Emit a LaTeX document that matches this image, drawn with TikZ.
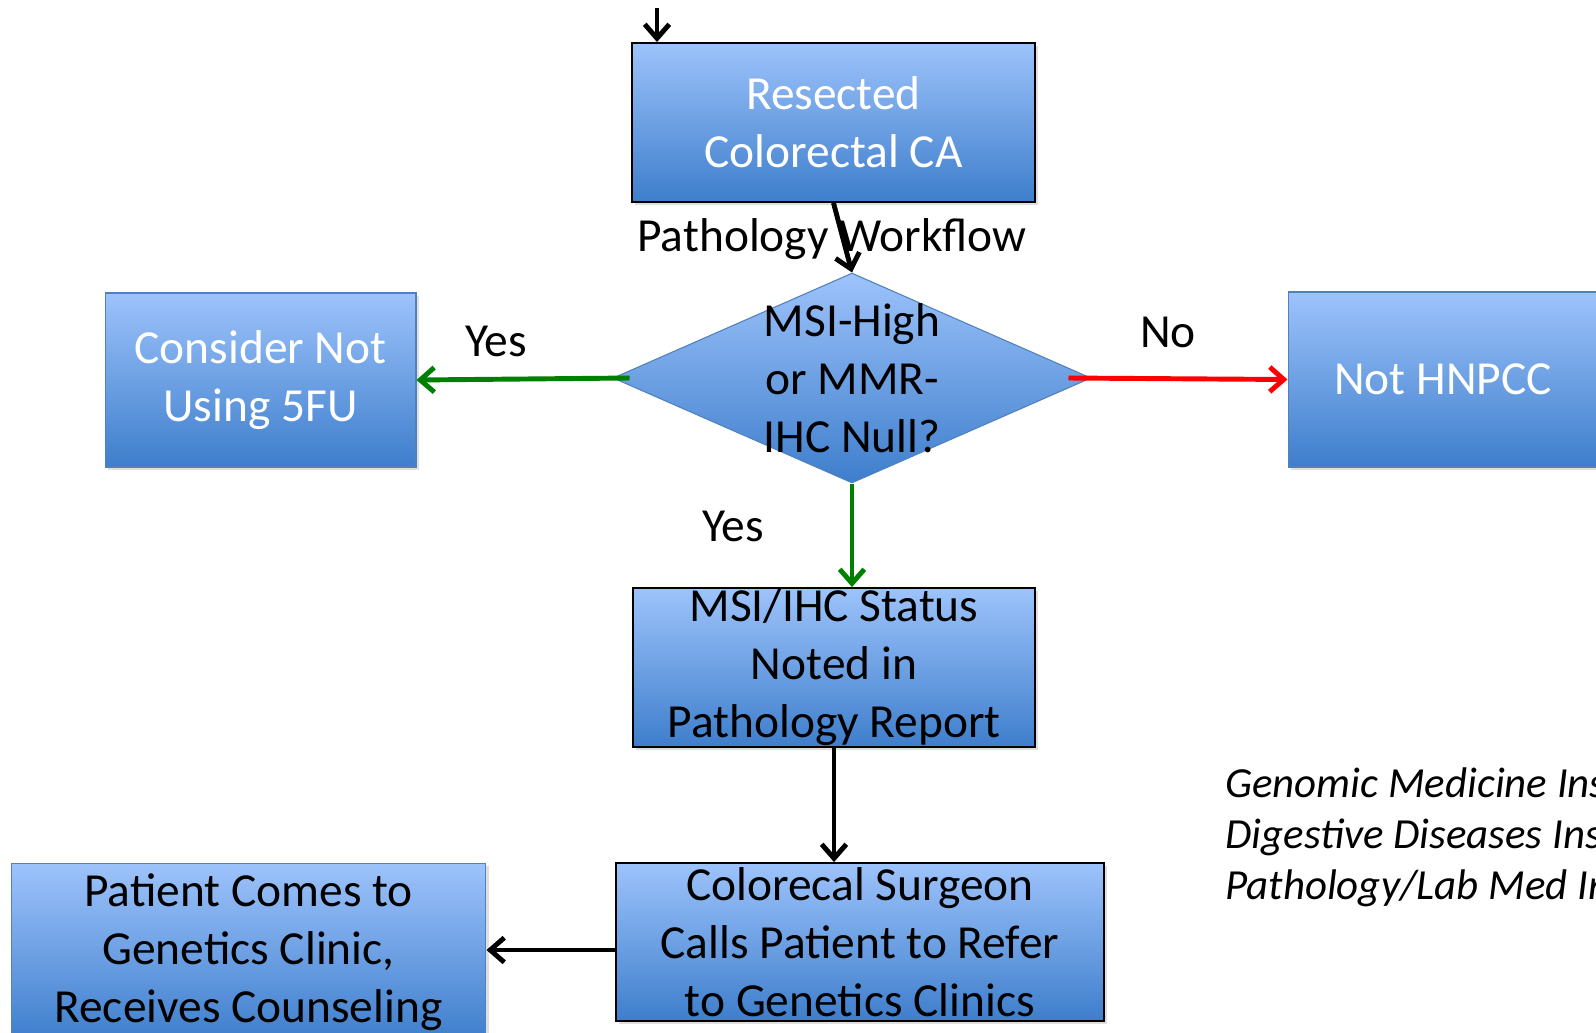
\documentclass[tikz,border=0pt]{standalone}
\usepackage{fontspec}
\setmainfont{Carlito}
\usetikzlibrary{shapes.geometric,arrows.meta,shadows}
\definecolor{boxtop}{RGB}{157,195,251}
\definecolor{boxbot}{RGB}{62,126,204}
\definecolor{boxedge}{RGB}{79,129,189}
\definecolor{yesgreen}{RGB}{0,128,0}
\tikzset{
  /tikz/.cd,
  stepbox/.style={rectangle,top color=boxtop,bottom color=boxbot,inner sep=0pt,align=center,
    font=\fontsize{27}{33}\selectfont,drop shadow={opacity=.25,shadow xshift=.6mm,shadow yshift=-.6mm}},
  darkbox/.style={stepbox,draw=black,line width=1.1pt},
  palebox/.style={stepbox,draw=boxedge,line width=.6pt,text=white},
  lbl/.style={font=\fontsize{27}{33}\selectfont,inner sep=0pt},
  note/.style={font=\itshape\fontsize{24.4}{29}\selectfont,inner sep=0pt,anchor=base west}
}

\begin{document}
\begin{tikzpicture}[x=0.02cm,y=-0.02cm,
                    flow/.style={-{Straight Barb[length=8pt,width=14pt]},line width=2.8pt}]
  \useasboundingbox (0,0) rectangle (1596,1032);

  \node[darkbox,text=white,minimum width=8.06cm,minimum height=3.18cm] (resected) at (833.5,122.5) {Resected\\Colorectal CA};
  \node[palebox,minimum width=6.22cm,minimum height=3.48cm] (consider) at (260.5,380) {Consider Not\\Using 5FU};
  \node[palebox,minimum width=6.2cm,minimum height=3.5cm] (nothnpcc) at (1443,379.5) {Not HNPCC};
  \node[diamond,top color=boxtop,bottom color=boxbot,draw=boxedge,line width=.6pt,inner sep=0pt,
        minimum width=9.56cm,minimum height=4.2cm,
        label={[lbl,align=center]center:{MSI-High\\or MMR-\\IHC Null?}}] (msi) at (852,378) {};
  \node[darkbox,minimum width=8.04cm,minimum height=3.18cm] (report) at (834,667.5) {MSI/IHC Status\\Noted in\\Pathology Report};
  \node[darkbox,minimum width=9.76cm,minimum height=3.16cm] (surgeon) at (860,942) {Colorecal Surgeon\\Calls Patient to Refer\\to Genetics Clinics};
  \node[stepbox,draw=boxedge,line width=.6pt,minimum width=9.5cm,minimum height=3.56cm] (patient) at (248.5,952) {Patient Comes to\\Genetics Clinic,\\Receives Counseling};

  \node[lbl,anchor=base] (workflow) at (832,251) {Pathology Workflow};
  \node[lbl] (yesleft) at (496,341) {Yes};
  \node[lbl] (nolabel) at (1168,332) {No};
  \node[lbl] (yesdown) at (733,526) {Yes};

  \node[note] (gmi) at (1225,797) {Genomic Medicine Ins};
  \node[note] (ddi) at (1225,848) {Digestive Diseases Ins};
  \node[note] (pli) at (1225,899) {Pathology/Lab Med In};

  % connectors
  \coordinate (entry) at (657,8);
  \draw[flow] (entry) -- (entry |- resected.north);
  \draw[flow] (resected.south) -- (msi.north);
  \draw[flow,yesgreen] ([xshift=.34cm]msi.west) -- (consider.east);
  \draw[flow,red] ([xshift=-.46cm]msi.east) -- (nothnpcc.west);
  \draw[flow,yesgreen] (msi.south) -- (msi.south |- report.north);
  \draw[flow] (report.south) -- (report.south |- surgeon.north);
  \draw[flow] ([yshift=-.16cm]surgeon.west) -- ([yshift=-.16cm]surgeon.west -| patient.east);
\end{tikzpicture}
\end{document}
